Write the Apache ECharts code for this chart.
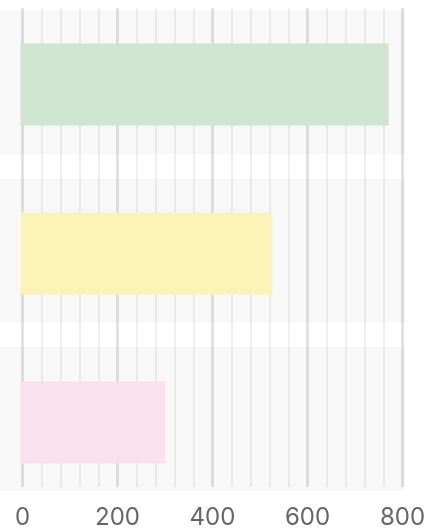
<!DOCTYPE html>
<html>
<head>
<meta charset="utf-8">
<script src="https://cdn.jsdelivr.net/npm/echarts@6/dist/echarts.min.js"></script>
<style>
  html, body { margin: 0; padding: 0; background: #ffffff; }
  #chart { width: 424px; height: 531px; }
</style>
</head>
<body>
<div id="chart"></div>
<script>
const categories = ['A', 'B', 'C'];
const values = [775, 530, 305];
const barColors = ['#cfe5d0', '#fcf4b6', '#f9e2ee'];
const tickValues = [0, 200, 400, 600, 800];
const bandValues = [1, 1, 1];

const chart = echarts.init(document.getElementById('chart'), null, { renderer: 'canvas' });

const option = {
  backgroundColor: '#ffffff',
  animation: false,
  grid: [
    { left: 22.5, right: 21.5, top: 8, bottom: 44, outerBoundsMode: 'none', containLabel: false },
    { left: 0, right: 19, top: -2, bottom: 28, outerBoundsMode: 'none', containLabel: false },
    { left: 20.5, right: 23.5, top: 0, bottom: 24, outerBoundsMode: 'none', containLabel: false }
  ],
  xAxis: [
    {
      gridIndex: 0, type: 'value',
      min: tickValues[0], max: tickValues[tickValues.length - 1], interval: 200,
      axisLine: { show: false }, axisTick: { show: false },
      minorTick: { show: false, splitNumber: 5 },
      splitLine: { show: true, lineStyle: { color: '#dedede', width: 2.5 } },
      minorSplitLine: { show: true, lineStyle: { color: '#ececec', width: 1.6 } },
      axisLabel: {
        show: true, color: '#666666', fontSize: 24, margin: 19,
        fontFamily: 'Inter, Roboto, sans-serif', hideOverlap: false
      }
    },
    {
      gridIndex: 1, type: 'value', min: 0, max: 1, show: false,
      splitLine: { show: false }
    },
    {
      gridIndex: 2, type: 'value', min: 0, max: 800, show: false,
      splitLine: { show: false }
    }
  ],
  yAxis: [
    { gridIndex: 0, type: 'value', show: false, splitLine: { show: false } },
    { gridIndex: 1, type: 'category', data: categories, inverse: true, show: false },
    { gridIndex: 2, type: 'category', data: categories, inverse: true, show: false }
  ],
  series: [
    {
      type: 'bar', xAxisIndex: 1, yAxisIndex: 1,
      data: bandValues, barWidth: 144,
      itemStyle: { color: 'rgba(0,0,0,0.028)' },
      silent: true
    },
    {
      type: 'bar', xAxisIndex: 2, yAxisIndex: 2,
      data: values.map((v, i) => ({ value: v, itemStyle: { color: barColors[i] } })),
      barWidth: 82
    }
  ]
};

chart.setOption(option);
</script>
</body>
</html>
